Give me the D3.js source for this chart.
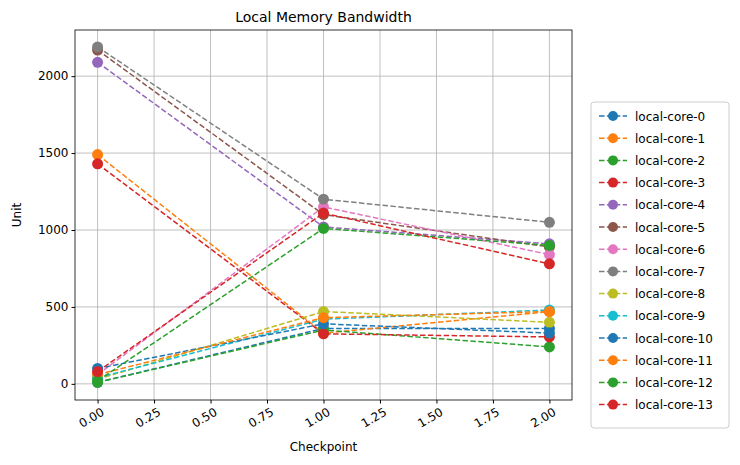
<!DOCTYPE html>
<html><head><meta charset="utf-8">
<script src="https://cdn.jsdelivr.net/npm/d3@7"></script>
<style>body{margin:0;background:#fff;} svg text{font-family:"DejaVu Sans",sans-serif;fill:#000;}</style>
</head><body>
<svg id="chart" width="740" height="465"></svg>
<script>
const checkpoints = [0, 1, 2];
const cores = d3.range(14).map(i => "local-core-" + i);
const values = [
    [10, 360, 360],
    [1490, 330, 470],
    [10, 350, 240],
    [1430, 325, 305],
    [2090, 1020, 910],
    [2170, 1100, 890],
    [60, 1150, 840],
    [2190, 1200, 1050],
    [30, 470, 400],
    [40, 420, 480],
    [100, 390, 330],
    [60, 430, 470],
    [20, 1010, 900],
    [80, 1110, 780]
];
const xTicks = [0, 0.25, 0.5, 0.75, 1, 1.25, 1.5, 1.75, 2];
const yTicks = [0, 500, 1000, 1500, 2000];
const colors = ["#1f77b4","#ff7f0e","#2ca02c","#d62728","#9467bd","#8c564b","#e377c2","#7f7f7f","#bcbd22","#17becf"];

const svg = d3.select("#chart");
const margin = {top: 30, right: 168, bottom: 65, left: 75};
const W = 740 - margin.left - margin.right, H = 465 - margin.top - margin.bottom;
const g = svg.append("g").attr("transform", `translate(${margin.left},${margin.top})`);

const x = d3.scaleLinear().domain([-0.1, 2.1]).range([0, W]);
const y = d3.scaleLinear().domain([-105, 2300]).range([H, 0]);

g.selectAll(".gx").data(xTicks).join("line").attr("x1", d => x(d)).attr("x2", d => x(d))
    .attr("y1", 0).attr("y2", H).attr("stroke", "#b0b0b0").attr("stroke-width", 0.8);
g.selectAll(".gy").data(yTicks).join("line").attr("y1", d => y(d)).attr("y2", d => y(d))
    .attr("x1", 0).attr("x2", W).attr("stroke", "#b0b0b0").attr("stroke-width", 0.8);

const xa = g.append("g").attr("transform", `translate(0,${H})`)
    .call(d3.axisBottom(x).tickValues(xTicks).tickFormat(d3.format(".2f")).tickSizeOuter(0).tickSize(3.5));
xa.selectAll("text").attr("transform", "rotate(-30)").attr("text-anchor", "end")
    .attr("dx", "-0.1em").attr("dy", "0.8em").attr("font-size", 12);
const ya = g.append("g").call(d3.axisLeft(y).tickValues(yTicks).tickFormat(d3.format("d")).tickSizeOuter(0).tickSize(3.5));
ya.selectAll("text").attr("font-size", 12);
g.selectAll(".domain").remove();
g.append("rect").attr("width", W).attr("height", H).attr("fill", "none").attr("stroke", "#000").attr("stroke-width", 0.8);

const line = d3.line().x((d, i) => x(checkpoints[i])).y(d => y(d));
values.forEach((vals, k) => {
    const c = colors[k % 10];
    g.append("path").attr("d", line(vals)).attr("fill", "none").attr("stroke", c)
        .attr("stroke-width", 1.5).attr("stroke-dasharray", "5.5,2.4");
    g.selectAll(null).data(vals).join("circle").attr("cx", (d, i) => x(checkpoints[i]))
        .attr("cy", d => y(d)).attr("r", 5.5).attr("fill", c);
});

svg.append("text").attr("x", margin.left + W / 2).attr("y", 22).attr("text-anchor", "middle")
    .attr("font-size", 14).text("Local Memory Bandwidth");
svg.append("text").attr("x", margin.left + W / 2).attr("y", 451).attr("text-anchor", "middle")
    .attr("font-size", 12).text("Checkpoint");
svg.append("text").attr("transform", `translate(21,${margin.top + H / 2}) rotate(-90)`)
    .attr("text-anchor", "middle").attr("font-size", 12).text("Unit");

const lg = svg.append("g").attr("transform", "translate(591,102)");
lg.append("rect").attr("width", 138).attr("height", 326).attr("rx", 3).attr("fill", "#fff")
    .attr("stroke", "#ccc");
cores.forEach((name, k) => {
    const yy = 14 + k * 22.2, c = colors[k % 10];
    lg.append("line").attr("x1", 8).attr("x2", 36).attr("y1", yy).attr("y2", yy)
        .attr("stroke", c).attr("stroke-width", 1.5).attr("stroke-dasharray", "5.5,2.4");
    lg.append("circle").attr("cx", 22).attr("cy", yy).attr("r", 5).attr("fill", c);
    lg.append("text").attr("x", 44).attr("y", yy + 4.5).attr("font-size", 12).text(name);
});
</script>
</body></html>
